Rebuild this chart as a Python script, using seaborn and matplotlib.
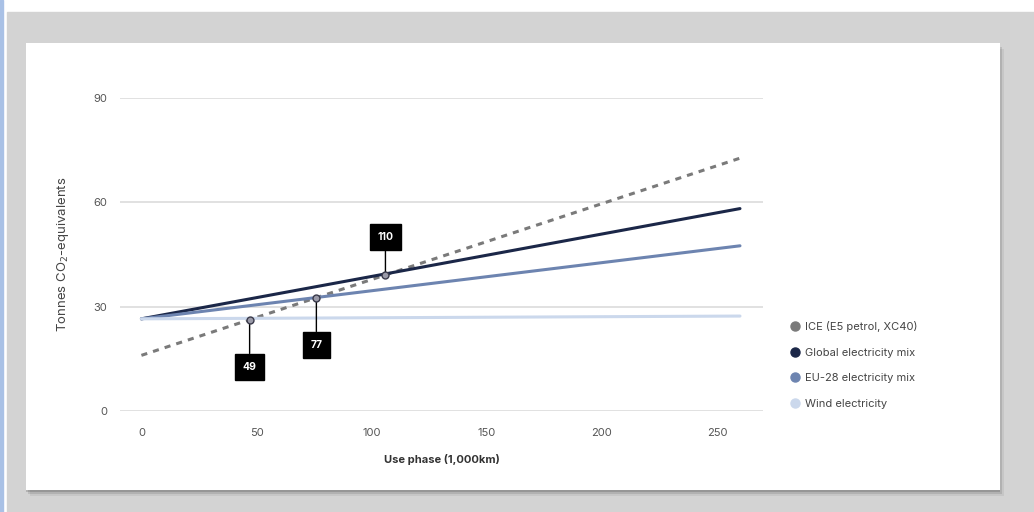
import numpy as np
import pandas as pd
import seaborn as sns
import matplotlib.pyplot as plt
from matplotlib.patches import Rectangle
from matplotlib.lines import Line2D

# data
use_phase = [0, 260]
ice = [16.0, 72.7]
global_mix = [26.5, 58.2]
eu28_mix = [26.5, 47.5]
wind = [26.5, 27.3]

series_names = ["ICE (E5 petrol, XC40)", "Global electricity mix",
                "EU-28 electricity mix", "Wind electricity"]
series_colors = ["#7a7a7a", "#1b2748", "#6d84b0", "#cbd8ec"]

breakeven_x = [47, 76, 106]
breakeven_y = [26.3, 32.6, 39.2]
breakeven_labels = ["49", "77", "110"]
label_offsets = [(0, -34), (0, -34), (0, 27)]

x_ticks = [0, 50, 100, 150, 200, 250]
y_ticks = [0, 30, 60, 90]

sns.set_theme(style="white")
plt.rcParams["font.family"] = ["Inter", "DejaVu Sans"]

df = pd.DataFrame({
    "km": use_phase * 4,
    "t": ice + global_mix + eu28_mix + wind,
    "series": [n for n in series_names for _ in use_phase],
})

fig = plt.figure(figsize=(10.34, 5.12), dpi=100, facecolor="white")

# page background, shadow and card
fig.patches.append(Rectangle((0, 0), 3 / 1034, 1, transform=fig.transFigure,
                             color="#a9c1e6", zorder=-20))
fig.patches.append(Rectangle((7 / 1034, 0), 1, 500 / 512, transform=fig.transFigure,
                             color="#d3d3d3", zorder=-20))
for i, a in enumerate([0.06, 0.10, 0.15]):
    d = 6 - 1.8 * i
    fig.patches.append(Rectangle(((26 + d - 2) / 1034, 1 - (490 + d) / 512),
                                 974 / 1034, 447 / 512, transform=fig.transFigure,
                                 color="black", alpha=a, lw=0, zorder=-15))
fig.patches.append(Rectangle((26 / 1034, 1 - 490 / 512), 974 / 1034, 447 / 512,
                             transform=fig.transFigure, color="white", lw=0, zorder=-10))

ax = fig.add_axes([120 / 1034, 101 / 512, 643 / 1034, 313 / 512])
ax.set_facecolor("none")

for y in y_ticks:
    ax.axhline(y, color="#d9d9d9", lw=1.1, zorder=0)

sns.lineplot(data=df, x="km", y="t", hue="series", style="series",
             palette=dict(zip(series_names, series_colors)),
             dashes={series_names[0]: (2, 2), series_names[1]: "",
                     series_names[2]: "", series_names[3]: ""},
             linewidth=2.2, legend=False, ax=ax, zorder=3)

for x, y, lab, off in zip(breakeven_x, breakeven_y, breakeven_labels, label_offsets):
    ax.annotate(lab, xy=(x, y), xytext=off, textcoords="offset points",
                ha="center", va="center", color="white", fontsize=7.5, fontweight="bold",
                bbox=dict(boxstyle="square,pad=0.75", fc="black", ec="black"),
                arrowprops=dict(arrowstyle="-", color="black", lw=1,
                                shrinkA=0, shrinkB=2), zorder=5)
    ax.plot(x, y, "o", ms=5, mfc="#9a9aa8", mec="#3a3a4a", mew=1, zorder=6)

ax.set_xlim(-9.3, 270)
ax.set_ylim(0, 90)
ax.set_xticks(x_ticks)
ax.set_yticks(y_ticks)
ax.tick_params(axis="x", direction="inout", length=12, width=0.8, color="#bdbdbd",
               labelsize=8, labelcolor="#555555", pad=6)
ax.tick_params(axis="y", length=0, labelsize=8, labelcolor="#555555", pad=9)
sns.despine(ax=ax, left=True, bottom=True, top=True, right=True)

ax.set_xlabel("Use phase (1,000km)", fontsize=8, fontweight="bold", color="#333333",
              labelpad=12)
ax.set_ylabel("Tonnes CO$_2$-equivalents", fontsize=9.5, color="#444444", labelpad=16)

handles = [Line2D([], [], marker="o", ls="", ms=6.5, color=c) for c in series_colors]
fig.legend(handles, series_names, loc="upper left",
           bbox_to_anchor=(778 / 1034, 1 - 311 / 512), frameon=False,
           fontsize=8, labelcolor="#444444", handletextpad=0.3,
           labelspacing=1.4, handlelength=1.2)

fig.savefig("out.png", dpi=100, facecolor=fig.get_facecolor())
